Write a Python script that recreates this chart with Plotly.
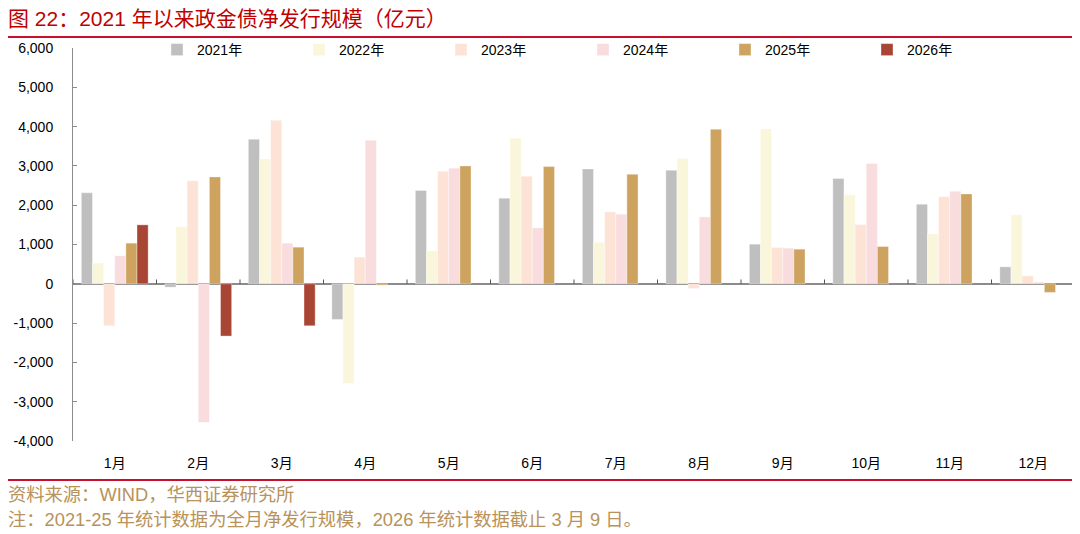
import plotly.graph_objects as go

months = ["1月", "2月", "3月", "4月", "5月", "6月", "7月", "8月", "9月", "10月", "11月", "12月"]
years = ["2021年", "2022年", "2023年", "2024年", "2025年", "2026年"]

v2021 = [2314, -85, 3678, -907, 2373, 2178, 2924, 2890, 1008, 2678, 2025, 432]
v2022 = [525, 1449, 3178, -2534, 839, 3703, 1059, 3186, 3941, 2263, 1271, 1754]
v2023 = [-1068, 2619, 4161, 678, 2864, 2737, 1831, -119, 924, 1508, 2212, 203]
v2024 = [712, -3525, 1034, 3653, 2941, 1424, 1771, 1703, 907, 3059, 2356, 42]
v2025 = [1034, 2720, 932, -34, 3000, 2983, 2788, 3932, 881, 949, 2288, -220]
v2026 = [1500, -1330, -1068, None, None, None, None, None, None, None, None, None]

series = [v2021, v2022, v2023, v2024, v2025, v2026]
colors = ["#BFBFBF", "#FAF6DC", "#FCE3D6", "#F8DCDE", "#CDA35F", "#A84535"]

ytickvals = [6000, 5000, 4000, 3000, 2000, 1000, 0, -1000, -2000, -3000, -4000]
yticktext = ["6,000", "5,000", "4,000", "3,000", "2,000", "1,000", "0",
             "-1,000", "-2,000", "-3,000", "-4,000"]

title_text = "图 22：2021 年以来政金债净发行规模（亿元）"
source_text = "资料来源：WIND，华西证券研究所"
note_text = "注：2021-25 年统计数据为全月净发行规模，2026 年统计数据截止 3 月 9 日。"

FONT = "Liberation Sans, Arial, Noto Sans CJK SC, sans-serif"

# page is rendered with an 8px body margin, so figure is 8px smaller
W, H = 1072, 526
ML, MT, MR, MB = 65, 40, 5, 93
PH = H - MT - MB


def py(page_y):
    """paper y from page pixel y"""
    fy = page_y - 8
    return (H - MB - fy) / PH


def px(page_x):
    fx = page_x - 8
    return (fx - ML) / (W - ML - MR)


fig = go.Figure()
for name, vals, c in zip(years, series, colors):
    fig.add_trace(go.Bar(
        x=months, y=vals, name=name,
        marker=dict(color=c, line=dict(width=0.6, color="rgba(255,255,255,0.6)")),
    ))

fig.update_layout(
    width=W, height=H,
    paper_bgcolor="white", plot_bgcolor="white",
    margin=dict(l=ML, r=MR, t=MT, b=MB),
    barmode="group", bargap=0.2, bargroupgap=0,
    font=dict(family=FONT, size=14, color="#000000"),
    showlegend=True,
    legend=dict(
        orientation="h", x=px(157), xanchor="left", y=py(50), yanchor="middle",
        entrywidth=97, entrywidthmode="pixels",
        itemwidth=30, font=dict(size=14, family=FONT),
        bgcolor="rgba(0,0,0,0)", traceorder="normal",
    ),
)

fig.update_yaxes(
    range=[-4000, 6000], tickvals=ytickvals, ticktext=yticktext,
    showgrid=False, showline=True, linecolor="#8C8C8C", linewidth=1,
    ticks="inside", ticklen=4, tickcolor="#8C8C8C",
    zeroline=True, zerolinecolor="#8C8C8C", zerolinewidth=1.5,
    ticklabelstandoff=16, tickfont=dict(size=14, family=FONT),
    automargin=False,
)
fig.update_xaxes(
    showgrid=False, showline=False, ticks="",
    range=[-0.5, 11.5],
    ticklabelstandoff=12, tickfont=dict(size=14, family=FONT),
    automargin=False,
)

# category boundary ticks on the zero line
for i in range(len(months)):
    fig.add_shape(type="line", xref="x", yref="y", x0=i - 0.5, x1=i - 0.5,
                  y0=0, y1=110, line=dict(color="#555555", width=1))

# red rules
for yy in (37, 480):
    fig.add_shape(type="line", xref="paper", yref="paper", x0=px(8), x1=px(1075),
                  y0=py(yy), y1=py(yy), line=dict(color="#C8102E", width=2))

fig.add_annotation(text=title_text, xref="paper", yref="paper",
                   x=px(6), y=py(18), xanchor="left", yanchor="middle",
                   showarrow=False, font=dict(size=21, color="#C00000", family=FONT))
fig.add_annotation(text=source_text, xref="paper", yref="paper",
                   x=px(6), y=py(494), xanchor="left", yanchor="middle",
                   showarrow=False, font=dict(size=18.3, color="#B8925A", family=FONT))
fig.add_annotation(text=note_text, xref="paper", yref="paper",
                   x=px(6), y=py(519), xanchor="left", yanchor="middle",
                   showarrow=False, font=dict(size=18.3, color="#B8925A", family=FONT))

fig.write_html("out.html")
